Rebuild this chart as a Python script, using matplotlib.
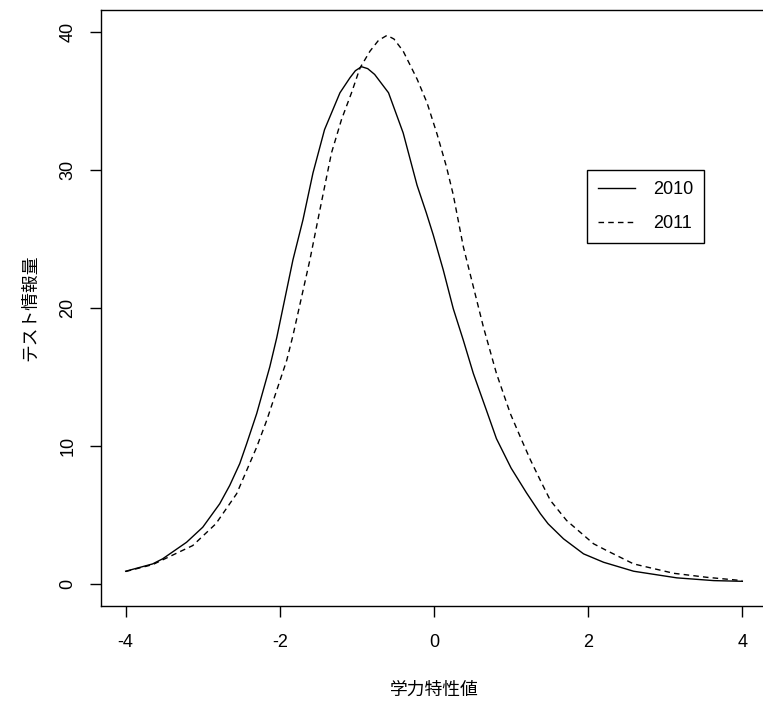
import matplotlib
matplotlib.use("Agg")
import matplotlib.pyplot as plt

# test information curves
x_2010 = [-4.0, -3.65, -3.52, -3.21, -3.0, -2.78, -2.65, -2.52, -2.43, -2.30, -2.13, -2.04,
          -1.83, -1.70, -1.57, -1.42, -1.22, -1.09, -1.02, -0.94, -0.86, -0.77, -0.59, -0.40,
          -0.22, -0.10, -0.01, 0.12, 0.25, 0.38, 0.51, 0.68, 0.81, 1.0, 1.2, 1.38, 1.48, 1.68,
          1.94, 2.20, 2.59, 3.15, 3.63, 4.0]
y_2010 = [0.92, 1.45, 1.82, 3.02, 4.11, 5.81, 7.14, 8.72, 10.17, 12.35, 15.74, 17.85,
          23.49, 26.39, 29.79, 32.93, 35.6, 36.69, 37.2, 37.49, 37.35, 36.93, 35.6, 32.69,
          28.9, 26.9, 25.3, 22.76, 19.95, 17.67, 15.26, 12.59, 10.53, 8.4, 6.6, 5.09, 4.36, 3.27,
          2.18, 1.57, 0.92, 0.44, 0.24, 0.19]

x_2011 = [-4.0, -3.65, -3.13, -2.83, -2.56, -2.43, -2.30, -2.17, -2.04, -1.91, -1.83, -1.61,
          -1.48, -1.33, -1.20, -1.07, -0.96, -0.83, -0.72, -0.61, -0.52, -0.40, -0.22, -0.09,
          0.04, 0.16, 0.25, 0.38, 0.51, 0.64, 0.81, 0.99, 1.12, 1.25, 1.38, 1.51, 1.72, 2.07,
          2.24, 2.59, 3.11, 3.54, 4.0]
y_2011 = [0.9, 1.4, 2.78, 4.36, 6.54, 8.23, 9.92, 11.86, 14.04, 16.22, 18.0, 23.49,
          27.12, 31.24, 33.66, 35.6, 37.4, 38.62, 39.4, 39.76, 39.5, 38.62, 36.6, 34.87,
          32.6, 30.27, 28.2, 24.45, 21.55, 18.64, 15.26, 12.35, 10.65, 9.0, 7.5, 6.05, 4.6, 2.91,
          2.42, 1.45, 0.77, 0.48, 0.24]

x_ticks = [-4, -2, 0, 2, 4]
y_ticks = [0, 10, 20, 30, 40]
series_labels = ["2010", "2011"]
x_title = "学力特性値"
y_title = "テスト情報量"

plt.rcParams['font.family'] = ['Liberation Sans', 'Noto Sans CJK JP', 'DejaVu Sans']
jp_font = ['Noto Sans CJK JP', 'DejaVu Sans']
fs = 13

W, H = 763, 703
fig = plt.figure(figsize=(W / 100, H / 100), dpi=100)
# box in pixels: left 101, right 767 (cropped), top 10, bottom 606
ax = fig.add_axes([101 / W, (H - 606) / H, (767 - 101) / W, (606 - 10) / H])

ax.plot(x_2010, y_2010, color='black', lw=1.0, ls='-', label=series_labels[0])
ax.plot(x_2011, y_2011, color='black', lw=1.0, ls=(0, (4, 3)), label=series_labels[1])

ax.set_xlim(-4.32, 4.32)
ax.set_ylim(-1.6, 41.6)
ax.set_xticks(x_ticks)
ax.set_yticks(y_ticks)
ax.set_xticklabels([str(v) for v in x_ticks])
ax.set_yticklabels([str(v) for v in y_ticks], rotation=90, va='center')

ax.tick_params(axis='both', direction='out', length=7.7, width=1.0, labelsize=fs,
               color='black')
ax.tick_params(axis='x', pad=12.5)
ax.tick_params(axis='y', pad=10)
for s in ax.spines.values():
    s.set_linewidth(1.0)
    s.set_color('black')

fig.text(434 / W, 1 - 690 / H, x_title, family=jp_font, fontsize=12.8,
         ha='center', va='center')
fig.text(30 / W, 1 - 308 / H, y_title, family=jp_font, fontsize=12.8,
         ha='center', va='center', rotation=90)

leg = ax.legend(loc='upper left', bbox_to_anchor=(587 / W, 1 - 170 / H),
                bbox_transform=fig.transFigure, fontsize=fs, frameon=True,
                fancybox=False, framealpha=1, edgecolor='black', borderaxespad=0,
                handlelength=2.05, handletextpad=1.0, labelspacing=0.95, borderpad=0.6)
leg.get_frame().set_linewidth(1.0)

fig.savefig("out.png", dpi=100)
